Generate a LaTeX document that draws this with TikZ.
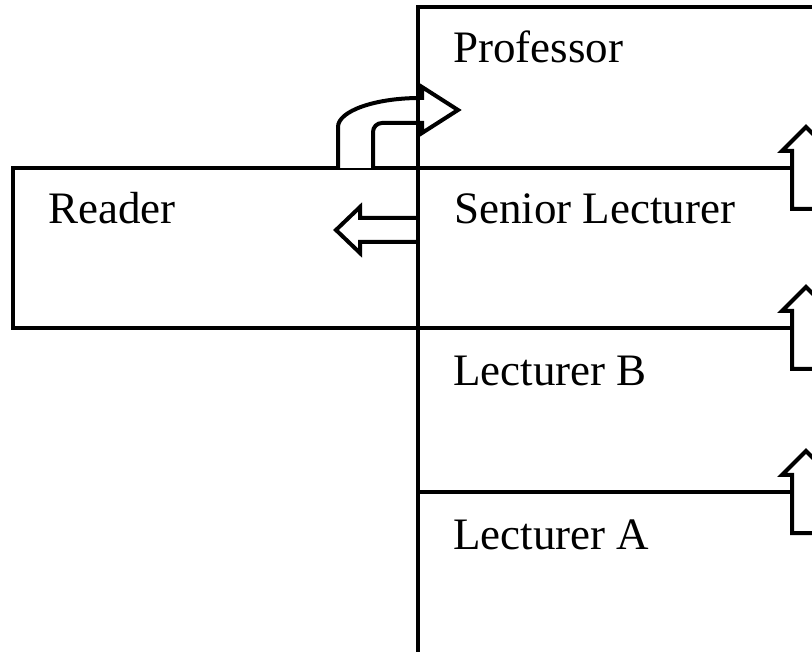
\documentclass[tikz,border=0pt]{standalone}
\usepackage{fontspec}
\setmainfont{Liberation Serif}
\begin{document}
\begin{tikzpicture}[x=1pt,y=-1pt,
  frame/.style={draw=black,line width=4pt},
  blockarrow/.style={draw=black,fill=white,line width=4pt,line join=miter},
  label/.style={anchor=base west,inner sep=0pt,font=\fontsize{45}{54}\selectfont}]
\useasboundingbox (0,0) rectangle (812,652);
\clip (0,0) rectangle (812,652);

% grade column and the reader box beside it
\draw[frame] (418,7) rectangle (840,680);
\draw[frame] (13,168) rectangle (418,328);
\draw[frame] (418,168) -- (840,168);
\draw[frame] (418,328) -- (840,328);
\draw[frame] (418,492) -- (840,492);

% promotion arrows on the right edge
\foreach \yl in {168,328,492}{
  \filldraw[blockarrow] (840,\yl+41) -- (792,\yl+41) -- (792,\yl-17) -- (782,\yl-17)
    -- (806,\yl-41) -- (830,\yl-17) -- (840,\yl-17);
}

% bent arrow from reader up into professor
\filldraw[blockarrow] (338,168) -- (338,127)
  .. controls (338,111) and (375,98) .. (420,98) -- (422,98) -- (422,87)
  -- (458,110) -- (422,133) -- (422,123) -- (382,123)
  .. controls (377,123) and (373,127) .. (373,132) -- (373,168);

% arrow from senior lecturer across to reader
\filldraw[blockarrow] (418,218) -- (360,218) -- (360,207) -- (336,230)
  -- (360,253) -- (360,242) -- (418,242);
\draw[frame] (418,7) -- (418,680);

% grade labels
\node[label] (prof) at (453,63) {Professor};
\node[label] (reader) at (48,224) {Reader};
\node[label] (senior) at (454,224) {Senior Lecturer};
\node[label] (lectb) at (453,386) {Lecturer B};
\node[label] (lecta) at (453,549) {Lecturer A};
\end{tikzpicture}
\end{document}
